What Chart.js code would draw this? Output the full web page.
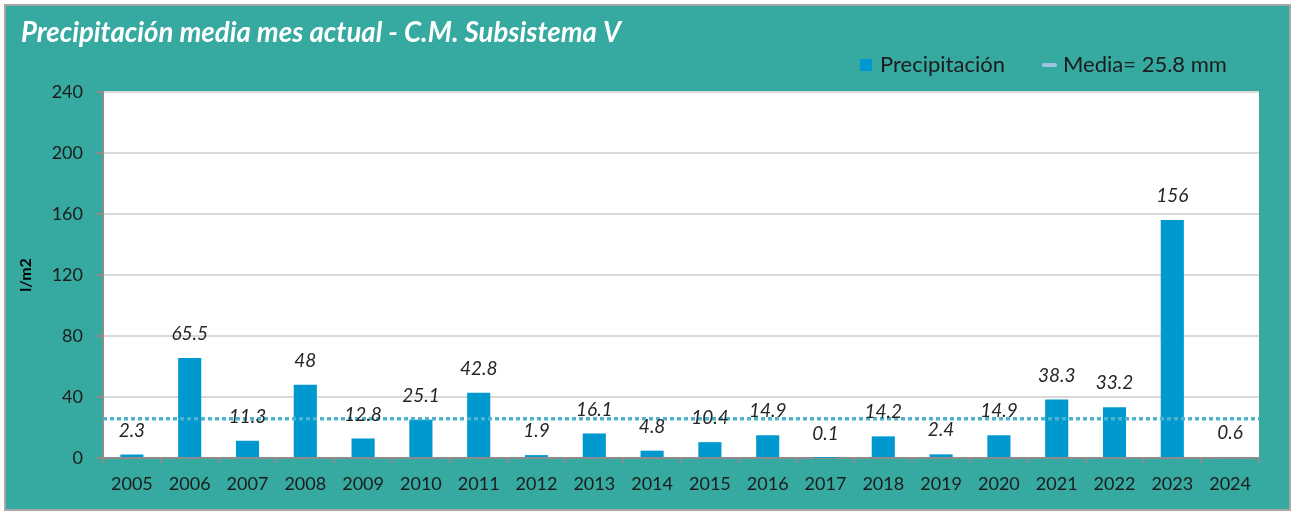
<!DOCTYPE html>
<html><head><meta charset="utf-8">
<script src="https://cdn.jsdelivr.net/npm/chart.js@4"></script>
<style>html,body{margin:0;padding:0;background:#fff}#wrap{position:absolute;left:0;top:0;width:1295px;height:514px}</style>
</head><body><div id="wrap"><canvas id="c" width="1295" height="514"></canvas></div>
<script>
const years = ['2005','2006','2007','2008','2009','2010','2011','2012','2013','2014','2015','2016','2017','2018','2019','2020','2021','2022','2023','2024'];
const precipitation = [2.3,65.5,11.3,48,12.8,25.1,42.8,1.9,16.1,4.8,10.4,14.9,0.1,14.2,2.4,14.9,38.3,33.2,156,0.6];
const meanValue = 25.8;
const yMin = 0, yMax = 240, yStep = 40;
const titleText = 'Precipitación media mes actual - C.M. Subsistema V';
const seriesName = 'Precipitación';
const meanName = 'Media= 25.8 mm';
const yAxisTitle = 'l/m2';

const FONT = 'Lato, Calibri, Carlito, sans-serif';
const TEAL = '#36a9a1';
const BAR = '#0099cf';
const MEANC = '#4db3cf';
const TXT = '#1c1c1c';

const framePlugin = {
  id: 'frame',
  beforeDraw(chart) {
    const ctx = chart.ctx;
    ctx.save();
    ctx.fillStyle = '#ffffff';
    ctx.fillRect(0, 0, chart.width, chart.height);
    ctx.fillStyle = TEAL;
    ctx.fillRect(6, 6, 1283, 503);
    ctx.strokeStyle = '#a6a6a6';
    ctx.lineWidth = 2;
    ctx.strokeRect(5, 5, 1285, 505);
    const a = chart.chartArea;
    ctx.fillStyle = '#ffffff';
    ctx.fillRect(a.left, a.top, a.right - a.left, a.bottom - a.top);
    // title
    ctx.fillStyle = '#ffffff';
    ctx.font = 'italic bold 27.6px ' + FONT;
    ctx.textBaseline = 'middle';
    ctx.textAlign = 'left';
    ctx.fillText(titleText, 21, 33);
    // legend
    ctx.font = '22px ' + FONT;
    ctx.fillStyle = BAR;
    ctx.fillRect(860, 59, 12, 12);
    ctx.fillStyle = TXT;
    ctx.fillText(seriesName, 880, 65);
    ctx.strokeStyle = '#9dc3e6';
    ctx.lineWidth = 4;
    ctx.lineCap = 'round';
    ctx.beginPath(); ctx.moveTo(1044, 65); ctx.lineTo(1055, 65); ctx.stroke();
    ctx.fillStyle = TXT;
    ctx.fillText(meanName, 1063, 65);
    // y axis title
    ctx.save();
    ctx.translate(26, (a.top + a.bottom) / 2);
    ctx.rotate(-Math.PI / 2);
    ctx.font = 'bold 16px ' + FONT;
    ctx.textAlign = 'center';
    ctx.textBaseline = 'middle';
    ctx.fillStyle = '#000000';
    ctx.fillText(yAxisTitle, 0, 0);
    ctx.restore();
    ctx.restore();
  },
  afterDatasetsDraw(chart) {
    const ctx = chart.ctx;
    const a = chart.chartArea;
    const y = chart.scales.y.getPixelForValue(meanValue);
    ctx.save();
    ctx.strokeStyle = MEANC;
    ctx.lineWidth = 3.5;
    ctx.setLineDash([4, 3]);
    ctx.beginPath(); ctx.moveTo(a.left, y); ctx.lineTo(a.right, y); ctx.stroke();
    ctx.restore();
    const meta = chart.getDatasetMeta(0);
    ctx.save();
    ctx.font = 'italic 19px ' + FONT;
    ctx.fillStyle = '#262626';
    ctx.textAlign = 'center';
    ctx.textBaseline = 'middle';
    meta.data.forEach((el, i) => {
      ctx.fillText(String(precipitation[i]), el.x, el.y - 24);
    });
    ctx.restore();
  }
};

new Chart(document.getElementById('c'), {
  type: 'bar',
  data: {
    labels: years,
    datasets: [{
      label: seriesName,
      data: precipitation,
      backgroundColor: BAR,
      borderWidth: 0,
      barPercentage: 0.4,
      categoryPercentage: 1
    }]
  },
  options: {
    responsive: false,
    animation: false,
    devicePixelRatio: 1,
    layout: { padding: { left: 5, top: 92, right: 36, bottom: 0 } },
    plugins: { legend: { display: false }, title: { display: false }, tooltip: { enabled: false } },
    scales: {
      x: {
        grid: { display: true, drawOnChartArea: false, drawTicks: true, tickLength: 5, color: '#8c8c8c', lineWidth: 2, offset: true },
        border: { display: true, color: '#8c8c8c', width: 2 },
        ticks: { font: { family: FONT, size: 18 }, color: TXT, padding: 10, maxRotation: 0, autoSkip: false },
        afterFit(s) { s.height = 56; }
      },
      y: {
        min: yMin, max: yMax,
        grid: { color: '#d9d9d9', lineWidth: 2, tickColor: '#8c8c8c', tickLength: 7, drawTicks: true },
        border: { display: true, color: '#8c8c8c', width: 2 },
        ticks: { stepSize: yStep, font: { family: FONT, size: 18 }, color: TXT, padding: 13 },
        afterFit(s) { s.width = 98; }
      }
    }
  },
  plugins: [framePlugin]
});
</script></body></html>
